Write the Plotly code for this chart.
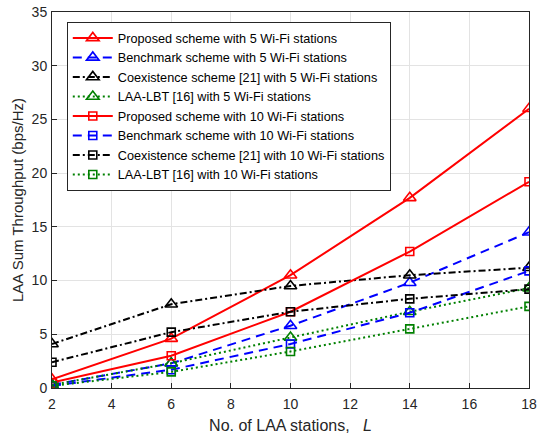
import plotly.graph_objects as go

L = [2, 6, 10, 14, 18]

names = [
    "Proposed scheme with 5 Wi-Fi stations",
    "Benchmark scheme with 5 Wi-Fi stations",
    "Coexistence scheme [21] with 5 Wi-Fi stations",
    "LAA-LBT [16] with 5 Wi-Fi stations",
    "Proposed scheme with 10 Wi-Fi stations",
    "Benchmark scheme with 10 Wi-Fi stations",
    "Coexistence scheme [21] with 10 Wi-Fi stations",
    "LAA-LBT [16] with 10 Wi-Fi stations",
]

proposed_5 = [0.8, 4.6, 10.5, 17.7, 26.0]
benchmark_5 = [0.3, 2.3, 5.8, 9.8, 14.5]
coexist_5 = [4.1, 7.8, 9.5, 10.5, 11.2]
lbt_5 = [0.3, 2.3, 4.7, 7.1, 9.3]
proposed_10 = [0.5, 3.0, 7.1, 12.7, 19.2]
benchmark_10 = [0.2, 1.7, 4.1, 7.0, 10.9]
coexist_10 = [2.4, 5.2, 7.1, 8.3, 9.2]
lbt_10 = [0.2, 1.5, 3.4, 5.5, 7.6]

series = [proposed_5, benchmark_5, coexist_5, lbt_5,
          proposed_10, benchmark_10, coexist_10, lbt_10]
colors = ["#ff0000", "#0000ff", "#000000", "#008000"] * 2
dashes = ["solid", "9px,6px", "7px,3px,2px,3px", "2px,3px"] * 2
symbols = ["triangle-up-open"] * 4 + ["square-open"] * 4
sizes = [11] * 4 + [8] * 4

FONT = "Liberation Sans, Arial, Helvetica, sans-serif"

fig = go.Figure()
for nm, ys, c, d, s, sz in zip(names, series, colors, dashes, symbols, sizes):
    fig.add_trace(go.Scatter(
        x=L, y=ys, name=nm, mode="lines+markers",
        line=dict(color=c, width=2, dash=d),
        marker=dict(symbol=s, size=sz, color=c, line=dict(color=c, width=1.6)),
    ))

axis_common = dict(
    showline=True, linecolor="#262626", linewidth=1, mirror=True,
    ticks="inside", ticklen=5, tickcolor="#262626",
    showgrid=True, gridcolor="#e3e3e3", gridwidth=1,
    zeroline=False, automargin=False,
    tickfont=dict(family=FONT, size=14, color="#262626"),
)

fig.update_layout(
    width=537, height=437,
    margin=dict(l=52, r=8, t=12, b=49),
    paper_bgcolor="white", plot_bgcolor="white",
    font=dict(family=FONT, size=14, color="#262626"),
    xaxis=dict(range=[2, 18], tickvals=[2, 4, 6, 8, 10, 12, 14, 16, 18],
               ticklabelstandoff=3,
               title=dict(text="No. of LAA stations,&nbsp;&nbsp;&nbsp;<i>L</i>", standoff=9,
                          font=dict(size=16, color="#262626")),
               **axis_common),
    yaxis=dict(range=[0, 35], tickvals=[0, 5, 10, 15, 20, 25, 30, 35],
               ticklabelstandoff=1,
               title=dict(text="LAA Sum Throughput (bps/Hz)", standoff=4,
                          font=dict(size=15, color="#262626")),
               **axis_common),
    legend=dict(x=0.031, y=0.973, xanchor="left", yanchor="top",
                bgcolor="white", bordercolor="#262626", borderwidth=1,
                font=dict(size=12.7, color="#000000", family=FONT),
                tracegroupgap=0, itemwidth=40),
    showlegend=True,
)

fig.write_html("out.html")
